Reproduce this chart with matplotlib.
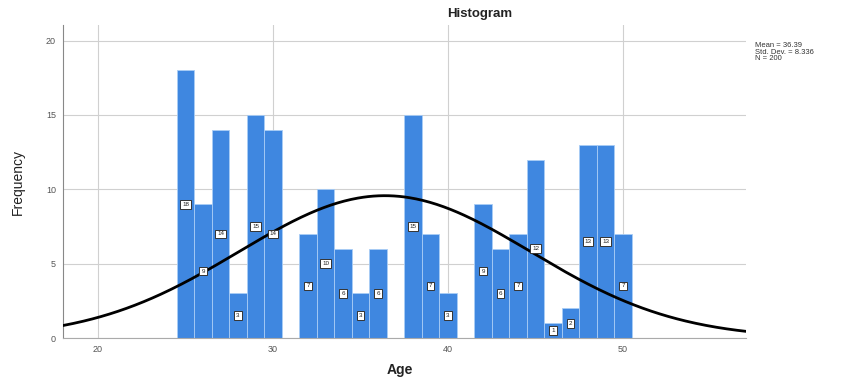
import numpy as np
import matplotlib
matplotlib.use("Agg")
import matplotlib.pyplot as plt

plt.rcParams['font.family'] = ['Liberation Sans', 'DejaVu Sans']

# Age values (one bin per year) and their frequencies
ages = [25, 26, 27, 28, 29, 30, 31, 32, 33, 34, 35, 36, 37, 38,
        39, 40, 41, 42, 43, 44, 45, 46, 47, 48, 49, 50]
counts = [18, 9, 14, 3, 15, 14, 0, 7, 10, 6, 3, 6, 0, 15,
          7, 3, 0, 9, 6, 7, 12, 1, 2, 13, 13, 7]
x_ticks = [20, 30, 40, 50]
y_ticks = [0, 5, 10, 15, 20]

# Summary statistics reported beside the chart
mean = 36.39
sd = 8.336
n = 200
bin_width = 1.0

fig = plt.figure(figsize=(8.56, 3.79), dpi=100)
ax = fig.add_axes([63 / 856, 1 - 338 / 379, (746 - 63) / 856, (338 - 25) / 379])

bar_color = "#3f87e0"
ax.bar(ages, counts, width=bin_width, color=bar_color,
       edgecolor="#a9cdf5", linewidth=0.6, zorder=2)

# Count labels at mid-height of each non-empty bar
for a, c in zip(ages, counts):
    if c > 0:
        ax.text(a, c / 2, str(c), ha="center", va="center", fontsize=4.5,
                color="#222222", zorder=4,
                bbox=dict(boxstyle="square,pad=0.3", fc="white",
                          ec="#333333", lw=0.7))

# Normal curve scaled to the histogram
xs = np.linspace(18, 57.1, 400)
ys = n * bin_width / (sd * np.sqrt(2 * np.pi)) * np.exp(-0.5 * ((xs - mean) / sd) ** 2)
ax.plot(xs, ys, color="black", lw=2.0, zorder=3)

ax.set_xlim(18, 57.03)
ax.set_ylim(0, 21.05)
ax.set_xticks(x_ticks)
ax.set_yticks(y_ticks)
ax.grid(True, color="#d0d0d0", lw=0.8, zorder=0)
ax.set_axisbelow(True)
for s in ["top", "right"]:
    ax.spines[s].set_visible(False)
ax.spines["left"].set_color("#888888")
ax.spines["bottom"].set_color("#aaaaaa")
ax.tick_params(axis="both", length=0, labelsize=6.5, labelcolor="#555555", pad=5)

fig.text(18 / 856, 1 - 182 / 379, "Frequency", rotation=90, ha="center",
         va="center", fontsize=10, color="#222222")
fig.text(400 / 856, 1 - 370 / 379, "Age", ha="center", va="center",
         fontsize=10, fontweight="bold", color="#222222")
fig.text(480 / 856, 1 - 14 / 379, "Histogram", ha="center", va="center",
         fontsize=9.5, fontweight="bold", color="#222222")
fig.text(755 / 856, 1 - 52 / 379,
         f"Mean = {mean:.2f}\nStd. Dev. = {sd:.3f}\nN = {n}",
         ha="left", va="center", fontsize=5.5, color="#333333", linespacing=0.95)

fig.savefig("out.png", dpi=100)
